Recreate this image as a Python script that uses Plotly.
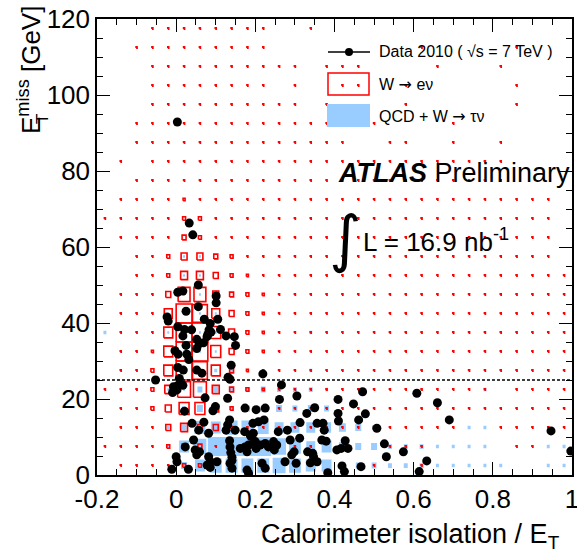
import plotly.graph_objects as go

# ---- binning of the 2D histograms ----
X_MIN, X_MAX, X_BIN = -0.2, 1.0, 0.04
Y_MIN, Y_MAX, Y_BIN = 0.0, 120.0, 5.0
BOX_FULL = 16  # bin content that fills a whole cell

# W -> e nu expectation, rows from 115-120 GeV (top) down to 0-5 GeV
W_ENU = [
    [0,0,0,1,1,1,1,1,1,1,1,0,0,1,0,0,0,0,0,0,0,0,0,0,0,0,0,0,0,0],
    [0,0,1,1,1,1,1,1,1,1,1,0,0,0,0,0,0,0,0,0,1,0,0,0,0,0,1,0,0,0],
    [0,0,0,1,1,1,1,1,1,1,1,1,1,0,1,1,1,0,0,0,0,1,0,0,0,1,0,0,0,0],
    [0,0,0,1,1,1,1,1,1,1,1,0,1,0,0,1,1,0,0,1,0,0,0,0,0,0,1,0,0,0],
    [0,0,0,1,1,1,1,1,1,1,1,1,1,0,1,0,0,0,0,1,0,0,0,0,0,0,1,0,0,0],
    [0,0,1,1,1,1,1,1,1,1,1,1,1,1,1,0,0,1,0,0,0,0,1,0,0,0,0,0,0,0],
    [0,0,1,1,1,1,1,1,1,1,1,1,1,1,1,1,0,0,1,1,0,0,1,0,0,1,0,0,0,0],
    [0,1,0,1,1,1,1,1,1,1,1,1,1,1,1,1,1,1,1,1,1,1,1,1,1,1,0,0,0,0],
    [0,0,1,1,1,1,1,1,1,1,1,1,1,1,1,1,1,1,1,1,1,1,1,1,1,1,0,0,0,0],
    [0,1,1,1,1,2,1,1,1,1,1,1,1,1,1,1,1,1,1,1,1,1,1,1,1,1,1,1,1,0],
    [1,1,1,1,1,3,3,1,1,1,1,1,1,1,1,1,1,1,1,1,1,1,1,1,1,1,1,1,1,0],
    [0,1,1,1,1,4,3,1,1,1,1,1,1,1,1,1,1,1,1,1,1,1,1,1,1,1,1,1,1,0],
    [0,0,1,1,3,6,6,4,3,1,1,1,1,1,1,1,1,1,1,1,1,1,1,1,1,1,1,1,1,0],
    [0,0,1,1,3,7,7,5,3,2,1,1,1,1,1,1,1,1,1,1,1,1,1,1,1,1,1,1,1,1],
    [0,1,1,1,5,12,12,6,4,3,2,1,1,1,1,1,1,1,1,1,1,1,1,1,1,1,1,1,1,1],
    [0,1,1,1,8,16,15,8,5,3,2,1,1,1,1,1,1,1,1,1,1,1,1,1,1,1,1,1,1,1],
    [0,1,1,1,9,16,16,10,6,3,2,1,1,1,1,1,1,1,1,1,1,1,1,1,1,1,1,1,1,1],
    [0,1,1,2,9,16,16,10,5,3,2,1,1,1,1,1,1,1,1,1,1,1,1,1,1,1,1,1,1,1],
    [0,1,1,3,9,16,15,9,4,2,1,1,1,1,1,1,1,1,1,1,1,1,1,1,1,1,1,1,1,1],
    [1,1,1,3,7,13,13,7,4,3,2,1,1,1,1,1,1,1,1,1,1,1,1,1,1,0,1,1,1,1],
    [0,1,1,3,6,10,10,6,3,1,1,1,1,1,1,1,1,1,1,1,1,1,1,1,1,1,1,1,1,1],
    [0,1,1,1,5,7,5,5,2,1,1,1,1,1,1,1,1,1,1,1,1,1,1,0,0,1,1,1,1,1],
    [1,1,1,1,3,4,4,1,1,1,1,1,1,1,0,0,0,0,1,1,1,0,0,0,0,0,1,1,0,0],
    [0,1,1,1,1,3,3,0,1,0,1,0,0,1,0,0,0,1,0,0,1,0,0,0,0,0,0,0,0,0],
]

# QCD + W -> tau nu expectation, same row order
QCD_WTAU = [[0] * 30 for _ in range(12)] + [
    [0,0,0,0,0,2,2,0,0,0,0,0,0,0,0,0,0,0,0,0,0,0,0,0,0,0,0,0,0,0],
    [0,0,0,0,0,2,2,0,0,0,0,0,0,0,0,0,0,0,0,0,0,0,0,0,0,0,0,0,0,0],
    [0,0,0,0,0,2,2,0,0,0,0,0,0,0,0,0,0,0,0,0,0,0,0,0,0,0,0,0,0,0],
    [0,0,0,0,0,2,2,2,0,0,0,0,0,0,0,0,0,0,0,0,0,0,0,0,0,0,0,0,0,0],
    [3,0,0,0,2,2,2,2,0,0,0,0,0,3,0,0,0,0,0,0,0,0,0,0,0,0,0,0,0,0],
    [0,0,0,0,0,2,2,2,0,0,0,0,0,0,0,0,0,0,0,0,0,0,0,0,0,0,0,0,0,0],
    [0,0,0,0,0,2,2,3,3,0,0,0,0,3,0,0,0,0,0,0,0,0,0,0,0,0,0,0,0,0],
    [0,0,0,0,2,2,5,5,4,4,5,4,4,4,3,0,0,0,0,0,0,0,0,0,3,0,0,0,0,0],
    [0,0,0,0,0,4,6,4,3,5,5,6,5,6,5,0,0,0,0,0,0,0,0,0,0,0,0,0,0,0],
    [0,0,0,0,3,5,11,10,12,12,11,9,9,9,9,7,6,4,0,0,0,0,0,3,3,0,0,0,0,0],
    [0,0,0,0,3,10,13,16,16,16,16,14,12,9,10,7,6,6,4,4,4,3,3,3,3,0,0,0,3,3],
    [0,0,0,0,2,6,10,12,12,12,12,13,12,10,10,6,5,5,4,4,4,3,3,3,3,3,0,0,3,3],
]

# Data 2010 candidates: calorimeter isolation / E_T and missing E_T [GeV]
DATA_X = [
    0.003, 0.033, 0.042, 0.056, 0.004, 0.017, 0.101, 0.101, 0.056, 0.025,
    -0.023, -0.020, 0.071, 0.105, 0.086, 0.004, 0.021, 0.039, 0.083, 0.080,
    0.088, 0.112, 0.017, 0.052, 0.078, 0.126, 0.147, 0.150, 0.069, 0.058,
    0.052, 0.025, -0.003, 0.005, 0.027, 0.032, 0.004, 0.018, 0.052, 0.065,
    0.139, 0.219, -0.052, 0.008, 0.131, 0.136, -0.007, 0.002, 0.017, -0.009,
    0.002, 0.266, 0.073, 0.130, 0.261, 0.305, 0.021, 0.093, 0.099, 0.174,
    0.202, 0.225, 0.350, 0.330, 0.040, 0.057, 0.070, 0.082, 0.135, 0.130,
    0.126, 0.149, 0.173, 0.194, 0.208, 0.222, 0.187, 0.195, 0.258, 0.281,
    0.313, 0.356, 0.371, 0.374, 0.044, 0.023, 0.048, 0.052, 0.059, 0.082,
    0.086, 0.103, 0.135, 0.136, 0.138, 0.141, 0.141, 0.162, 0.174, 0.183,
    0.189, 0.200, 0.212, 0.225, 0.246, 0.254, 0.288, 0.312, 0.179, 0.202,
    0.233, 0.248, 0.292, 0.332, 0.345, 0.356, 0.368, 0.379, 0.406, 0.002,
    0.000, -0.011, 0.031, 0.078, 0.086, 0.136, 0.141, 0.179, 0.183, 0.217,
    0.275, 0.303, 0.339, 0.383, 0.298, 0.225, 0.471, 0.608, 0.660, 0.690,
    0.947, 0.997, 0.409, 0.448, 0.409, 0.410, 0.478, 0.461, 0.507, 0.427,
    0.526, 0.417, 0.434, 0.347, 0.574, 0.531, 0.633, 0.419, 0.425, 0.467,
    0.614,
]
DATA_Y = [
    92.9, 66.3, 63.2, 50.0, 48.1, 48.4, 47.1, 45.3, 44.3, 43.1,
    41.6, 40.5, 41.0, 41.0, 39.9, 39.0, 38.3, 38.2, 38.2, 37.0,
    37.6, 38.3, 36.6, 35.7, 36.4, 36.6, 36.4, 34.1, 34.8, 34.5,
    33.3, 34.1, 32.7, 31.8, 31.8, 30.4, 28.3, 27.6, 27.6, 26.8,
    28.9, 26.6, 25.0, 25.4, 25.7, 25.2, 23.2, 23.4, 23.6, 21.7,
    22.4, 23.7, 20.3, 20.2, 19.9, 20.8, 16.8, 16.9, 18.0, 17.6,
    17.2, 17.6, 17.7, 16.2, 13.6, 11.8, 13.9, 11.0, 14.5, 13.2,
    11.8, 11.8, 11.4, 13.6, 14.0, 14.5, 10.5, 11.0, 11.4, 11.8,
    13.8, 13.6, 13.6, 11.8, 9.2, 7.4, 6.6, 5.3, 6.1, 4.8,
    3.5, 3.5, 9.0, 7.4, 5.9, 4.7, 3.8, 7.0, 7.4, 7.9,
    10.1, 8.8, 7.9, 8.3, 8.8, 7.9, 9.2, 9.7, 6.1, 7.0,
    7.4, 6.6, 5.3, 6.1, 5.7, 3.5, 9.2, 8.9, 6.6, 3.5,
    4.8, 1.5, 1.5, 2.6, 2.0, 3.1, 1.8, 1.3, 0.4, 3.1,
    3.5, 3.1, 3.2, 0.6, 6.1, 1.8, 21.9, 21.5, 19.0, 14.5,
    11.6, 6.3, 19.9, 18.7, 16.2, 14.2, 16.1, 14.5, 12.3, 9.0,
    8.2, 7.0, 7.0, 4.8, 6.1, 4.8, 3.7, 2.4, 0.9, 2.2,
    0.9,
]

MET_CUT = 25.0

XTICKS = [-0.2, 0.0, 0.2, 0.4, 0.6, 0.8, 1.0]
XTICK_TEXT = ["-0.2", "0", "0.2", "0.4", "0.6", "0.8", "1"]

RED = "#ff0000"
BLUE = "#99ccff"
FONT = "Liberation Sans, Arial, Helvetica, sans-serif"
ARROW = "<span style='font-family:DejaVu Sans'>→</span>"

# ---- figure geometry (pixels) ----
W, H = 577, 551
ML, MR, MT, MB = 97, 5, 19, 76
PW, PH = W - ML - MR, H - MT - MB


def px(xp):
    """paper x from a horizontal pixel position"""
    return (xp - ML) / PW


def py(yp):
    """paper y from a vertical pixel position (measured from the top)"""
    return (H - MB - yp) / PH


def box_paths(grid):
    xs, ys = [], []
    for r, row in enumerate(grid):
        yc = Y_MAX - (r + 0.5) * Y_BIN
        for c, v in enumerate(row):
            if v <= 0:
                continue
            xc = X_MIN + (c + 0.5) * X_BIN
            hx = 0.5 * X_BIN * v / BOX_FULL
            hy = 0.5 * Y_BIN * v / BOX_FULL
            xs += [xc - hx, xc + hx, xc + hx, xc - hx, xc - hx, None]
            ys += [yc - hy, yc - hy, yc + hy, yc + hy, yc - hy, None]
    return xs, ys


fig = go.Figure()

qx, qy = box_paths(QCD_WTAU)
fig.add_trace(go.Scatter(
    x=qx, y=qy, mode="lines", fill="toself", fillcolor=BLUE,
    line=dict(width=0, color=BLUE), hoverinfo="skip", name="QCD + W → τν",
))

wx, wy = box_paths(W_ENU)
fig.add_trace(go.Scatter(
    x=wx, y=wy, mode="lines", line=dict(width=1.6, color=RED),
    hoverinfo="skip", name="W → eν",
))

fig.add_trace(go.Scatter(
    x=[X_MIN, X_MAX], y=[MET_CUT, MET_CUT], mode="lines",
    line=dict(color="black", width=1.5, dash="3px,2px"), hoverinfo="skip",
))

fig.add_trace(go.Scatter(
    x=DATA_X, y=DATA_Y, mode="markers",
    marker=dict(color="black", size=9, line=dict(width=0)),
    name="Data 2010",
))

axis_common = dict(
    showline=True, linecolor="black", linewidth=1.5, mirror="allticks",
    ticks="inside", tickcolor="black", tickwidth=1.2,
    showgrid=False, zeroline=False, automargin=False,
    ticklabeloverflow="allow",
    tickfont=dict(family=FONT, size=26, color="black"),
)
fig.update_xaxes(
    range=[X_MIN, X_MAX], tickvals=XTICKS, ticktext=XTICK_TEXT, ticklen=13,
    minor=dict(dtick=0.05, tick0=0, ticks="inside", ticklen=6, tickcolor="black", tickwidth=1.2),
    **axis_common,
)
fig.update_yaxes(
    range=[Y_MIN, Y_MAX], tick0=0, dtick=20, ticklen=13,
    minor=dict(dtick=5, tick0=0, ticks="inside", ticklen=6, tickcolor="black", tickwidth=1.2),
    **axis_common,
)

ann = []
shapes = []

# axis titles
ann.append(dict(
    text="Calorimeter isolation / E<sub>T</sub>", xref="paper", yref="paper",
    x=px(562), y=py(536), xanchor="right", yanchor="middle", showarrow=False,
    font=dict(family=FONT, size=27, color="black"),
))
ann.append(dict(
    text="E<sup>miss</sup> [GeV]", xref="paper", yref="paper", textangle=-90,
    x=px(30), y=py(4), xanchor="center", yanchor="top", showarrow=False,
    font=dict(family=FONT, size=26, color="black"),
))
ann.append(dict(
    text="T", xref="paper", yref="paper", textangle=-90,
    x=px(42), y=py(119), xanchor="center", yanchor="middle", showarrow=False,
    font=dict(family=FONT, size=17, color="black"),
))

# legend
shapes.append(dict(type="line", xref="paper", yref="paper",
                   x0=px(328), x1=px(370), y0=py(52), y1=py(52),
                   line=dict(color="black", width=1.5)))
shapes.append(dict(type="circle", xref="paper", yref="paper",
                   x0=px(345), x1=px(353), y0=py(48), y1=py(56),
                   fillcolor="black", line=dict(width=0)))
shapes.append(dict(type="rect", xref="paper", yref="paper",
                   x0=px(328), x1=px(369), y0=py(73), y1=py(95),
                   line=dict(color=RED, width=1.5)))
shapes.append(dict(type="rect", xref="paper", yref="paper",
                   x0=px(327), x1=px(370), y0=py(104), y1=py(127),
                   fillcolor=BLUE, line=dict(width=0)))
legend_rows = [
    ("Data 2010 ( √s = 7 TeV )", 52),
    ("W " + ARROW + " eν", 84),
    ("QCD + W " + ARROW + " τν", 116),
]
for label, yp in legend_rows:
    ann.append(dict(
        text=label, xref="paper", yref="paper", x=px(377), y=py(yp),
        xanchor="left", yanchor="middle", showarrow=False,
        font=dict(family=FONT, size=16, color="black"),
    ))

# experiment label and luminosity
ann.append(dict(
    text="<b><i>ATLAS</i></b> Preliminary", xref="paper", yref="paper",
    x=px(336), y=py(173), xanchor="left", yanchor="middle", showarrow=False,
    font=dict(family=FONT, size=27, color="black"),
))
ann.append(dict(
    text="∫", xref="paper", yref="paper",
    x=px(345), y=py(238), xanchor="center", yanchor="middle", showarrow=False,
    font=dict(family="DejaVu Sans", size=62, color="black"),
))
ann.append(dict(
    text="L = 16.9 nb<sup>-1</sup>", xref="paper", yref="paper",
    x=px(361), y=py(240), xanchor="left", yanchor="middle", showarrow=False,
    font=dict(family=FONT, size=26, color="black"),
))

fig.update_layout(
    width=W, height=H, margin=dict(l=ML, r=MR, t=MT, b=MB),
    plot_bgcolor="white", paper_bgcolor="white", showlegend=False,
    font=dict(family=FONT, color="black"),
    annotations=ann, shapes=shapes,
)

fig.write_html("out.html")
